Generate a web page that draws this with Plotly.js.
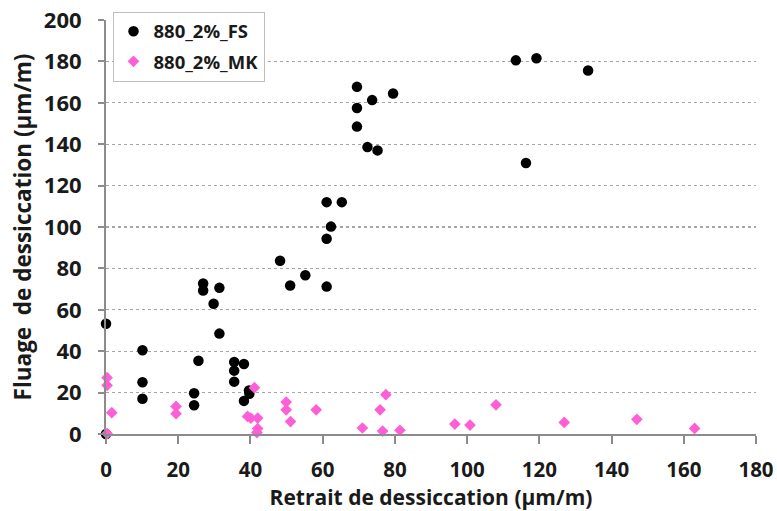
<!DOCTYPE html>
<html>
<head>
<meta charset="utf-8">
<script src="https://cdn.plot.ly/plotly-3.0.1.min.js"></script>
<style>
html,body{margin:0;padding:0;background:#fff;}
#chart{width:777px;height:511px;}
</style>
</head>
<body>
<div id="chart"></div>
<script>
const seriesNames = ["880_2%_FS", "880_2%_MK"];

const fsX = [0, 0, 10.1, 10.1, 10.1, 24.4, 24.4, 25.6, 26.9, 26.9, 29.8, 31.4, 31.4, 35.5, 35.5, 35.5, 38.2, 38.2, 39.6, 39.7, 48.2, 51.0, 55.2, 61.1, 61.1, 61.1, 62.3, 65.3, 69.5, 69.5, 69.5, 72.4, 73.7, 75.2, 79.5, 113.5, 116.3, 119.2, 133.5];
const fsY = [53.3, 0, 40.5, 25.0, 17.0, 19.7, 13.9, 35.4, 72.7, 69.3, 62.9, 70.6, 48.5, 34.8, 30.6, 25.3, 33.8, 16.0, 21.0, 19.4, 83.7, 71.7, 76.7, 71.2, 94.3, 112.0, 100.2, 112.0, 167.7, 157.5, 148.5, 138.6, 161.3, 137.0, 164.5, 180.5, 130.9, 181.5, 175.6];

const mkX = [0.3, 0.3, 1.6, 0.3, 19.4, 19.4, 39.2, 40.1, 41.1, 42.0, 42.0, 41.8, 49.9, 49.9, 51.1, 58.2, 71.0, 75.9, 77.5, 76.6, 81.4, 96.6, 100.8, 108.0, 126.9, 147.0, 163.0];
const mkY = [27.2, 23.5, 10.3, 0.2, 13.3, 9.8, 8.5, 7.7, 22.4, 7.7, 2.6, 0.7, 15.4, 11.7, 6.0, 11.7, 2.9, 11.7, 19.0, 1.4, 1.8, 4.8, 4.3, 14.1, 5.6, 7.1, 2.7];

const xTicks = [0, 20, 40, 60, 80, 100, 120, 140, 160, 180];
const yTicks = [0, 20, 40, 60, 80, 100, 120, 140, 160, 180, 200];

const xTitle = "Retrait de dessiccation (µm/m)";
const yTitle = "Fluage\u00a0 de dessiccation (µm/m)";

const FONT = "Open Sans, Noto Sans, sans-serif";
const TXT = "#1a1a1a";

const traces = [
  {
    x: fsX, y: fsY, name: seriesNames[0], type: "scatter", mode: "markers",
    legendgroup: "fs",
    marker: {symbol: "circle", size: 10.5, color: "#000000"},
    cliponaxis: false
  },
  {
    x: mkX, y: mkY, name: seriesNames[1], type: "scatter", mode: "markers",
    legendgroup: "mk",
    marker: {symbol: "diamond", size: 9, color: "#ff5fd6"},
    cliponaxis: false
  }
];

const axisCommon = {
  showline: true, linecolor: "#8c8c8c", linewidth: 2,
  ticks: "outside", tickcolor: "#8c8c8c", tickwidth: 2,
  zeroline: false,
  fixedrange: true
};

const layout = {
  width: 777, height: 511,
  margin: {l: 106, r: 21, t: 18, b: 77},
  paper_bgcolor: "#ffffff", plot_bgcolor: "#ffffff",
  showlegend: true,
  legend: {
    x: 0.01, y: 1.02, xanchor: "left", yanchor: "top",
    bgcolor: "#ffffff", bordercolor: "#bfbfbf", borderwidth: 1,
    font: {family: FONT, size: 18.5, color: TXT, weight: "bold"},
    itemwidth: 30, tracegroupgap: 3
  },
  xaxis: Object.assign({}, axisCommon, {
    range: [0, 180], tickvals: xTicks, ticklen: 8,
    ticklabelstandoff: 8,
    tickfont: {family: FONT, size: 20.5, color: TXT, weight: "bold"},
    showgrid: false,
    title: {text: xTitle, font: {family: FONT, size: 21, color: TXT, weight: "bold"}, standoff: 3}
  }),
  yaxis: Object.assign({}, axisCommon, {
    range: [0, 200], tickvals: yTicks, ticklen: 6,
    ticklabelstandoff: 12,
    tickfont: {family: FONT, size: 22, color: TXT, weight: "bold"},
    showgrid: true, gridcolor: "#a6a6a6", griddash: "dot", gridwidth: 1.2,
    title: {text: yTitle, font: {family: FONT, size: 22.5, color: TXT, weight: "bold"}, standoff: 6}
  })
};

Plotly.newPlot("chart", traces, layout, {displayModeBar: false, staticPlot: true});
</script>
</body>
</html>
